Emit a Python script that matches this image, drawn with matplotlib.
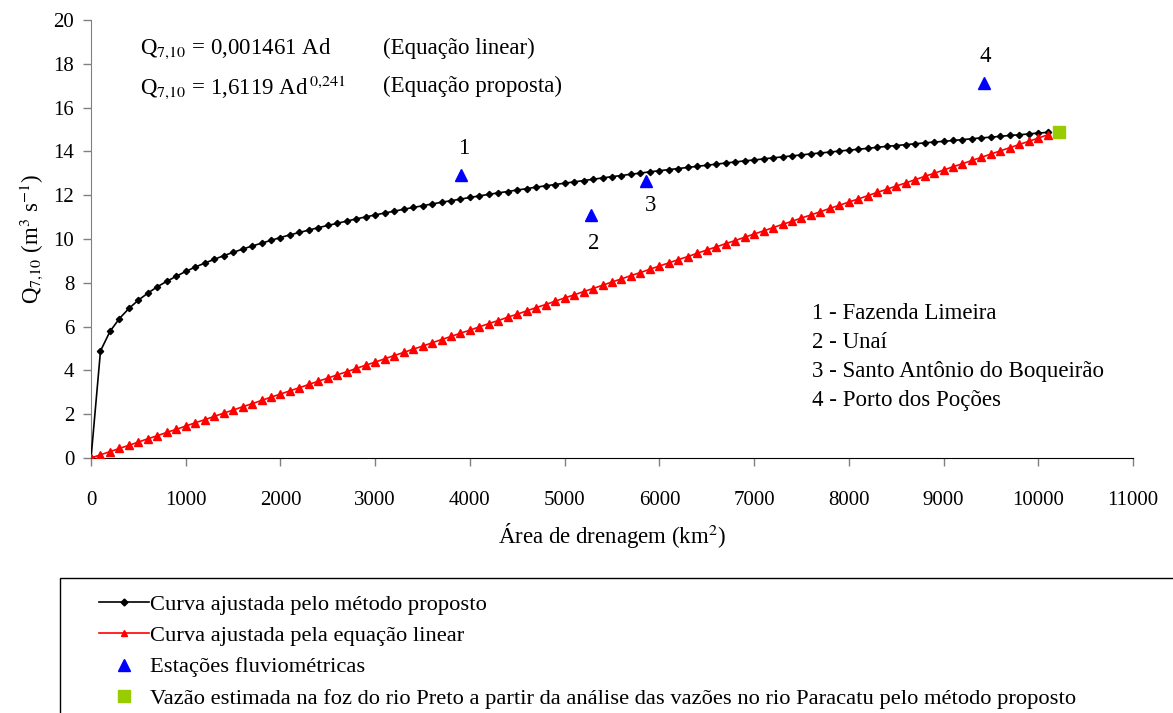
import numpy as np
import matplotlib
matplotlib.use("Agg")
import matplotlib.pyplot as plt
from matplotlib.lines import Line2D
from matplotlib.patches import Rectangle

plt.rcParams["font.family"] = ["Liberation Serif", "DejaVu Serif"]
plt.rcParams["mathtext.fontset"] = "stix"

# drainage area grid (km2), one marker every 100 km2
area = np.arange(0, 10101, 100)

q_proposed = [
    0, 4.89, 5.78, 6.37, 6.83, 7.21, 7.53, 7.82, 8.07, 8.30, 8.52,
    8.72, 8.90, 9.07, 9.24, 9.39, 9.54, 9.68, 9.81, 9.94, 10.07,
    10.19, 10.30, 10.41, 10.52, 10.62, 10.72, 10.82, 10.92, 11.01, 11.10,
    11.19, 11.27, 11.36, 11.44, 11.52, 11.60, 11.68, 11.75, 11.82, 11.90,
    11.97, 12.04, 12.11, 12.17, 12.24, 12.30, 12.37, 12.43, 12.49, 12.55,
    12.61, 12.67, 12.73, 12.79, 12.85, 12.90, 12.96, 13.01, 13.07, 13.12,
    13.17, 13.22, 13.27, 13.32, 13.37, 13.42, 13.47, 13.52, 13.57, 13.61,
    13.66, 13.71, 13.75, 13.80, 13.84, 13.89, 13.93, 13.97, 14.02, 14.06,
    14.10, 14.14, 14.19, 14.23, 14.27, 14.31, 14.35, 14.39, 14.43, 14.46,
    14.50, 14.54, 14.58, 14.62, 14.65, 14.69, 14.73, 14.76, 14.80, 14.84,
    14.87,
]

q_linear = [
    0, 0.15, 0.29, 0.44, 0.58, 0.73, 0.88, 1.02, 1.17, 1.31, 1.46,
    1.61, 1.75, 1.90, 2.05, 2.19, 2.34, 2.48, 2.63, 2.78, 2.92,
    3.07, 3.21, 3.36, 3.51, 3.65, 3.80, 3.94, 4.09, 4.24, 4.38,
    4.53, 4.68, 4.82, 4.97, 5.11, 5.26, 5.41, 5.55, 5.70, 5.84,
    5.99, 6.14, 6.28, 6.43, 6.57, 6.72, 6.87, 7.01, 7.16, 7.31,
    7.45, 7.60, 7.74, 7.89, 8.04, 8.18, 8.33, 8.47, 8.62, 8.77,
    8.91, 9.06, 9.20, 9.35, 9.50, 9.64, 9.79, 9.93, 10.08, 10.23,
    10.37, 10.52, 10.67, 10.81, 10.96, 11.10, 11.25, 11.40, 11.54, 11.69,
    11.83, 11.98, 12.13, 12.27, 12.42, 12.56, 12.71, 12.86, 13.00, 13.15,
    13.30, 13.44, 13.59, 13.73, 13.88, 14.03, 14.17, 14.32, 14.46, 14.61,
    14.76,
]

station_ids = ["1", "2", "3", "4"]
station_area = [3910, 5275, 5855, 9430]
station_q = [12.92, 11.10, 12.66, 17.12]
station_names = ["1 - Fazenda Limeira", "2 - Unaí",
                 "3 - Santo Antônio do Boqueirão", "4 - Porto dos Poções"]

mouth_area = [10215]
mouth_q = [14.89]

legend_labels = [
    "Curva ajustada pelo método proposto",
    "Curva ajustada pela equação linear",
    "Estações fluviométricas",
    "Vazão estimada na foz do rio Preto a partir da análise das vazões no rio Paracatu pelo método proposto",
]

FS = 16.5
LEG_FS = 16.2
TICK_FS = 15

fig = plt.figure(figsize=(11.73, 7.13), dpi=100)
ax = fig.add_axes([0.0776, 0.3576, 0.8883, 0.6143])

ax.plot(area, q_proposed, "-", color="black", lw=1.2, marker="D", ms=3.2,
        mec="black", mfc="black", zorder=3)
ax.plot(area, q_linear, "-", color="red", lw=1.2, marker="^", ms=6,
        mec="red", mfc="red", zorder=3)
ax.plot(station_area, station_q, "^", color="blue", ms=8, ls="none", zorder=4)
ax.plot(mouth_area, mouth_q, "s", color="#99cc00", ms=8, ls="none", zorder=4)

# station numbers
label_off = {"1": (20, 1.2), "2": (35, -1.3), "3": (55, -1.15), "4": (5, 1.2)}
for sid, x, y in zip(station_ids, station_area, station_q):
    dx, dy = label_off[sid]
    ax.text(x + dx, y + dy, sid, ha="center", va="center", fontsize=FS)

for i, name in enumerate(station_names):
    ax.text(7610, 6.62 - i * 1.33, name, ha="left", va="center", fontsize=FS)

# equations
ax.text(520, 18.7, "Q$_{7{,}10}$ = 0,001461 Ad", ha="left", va="center", fontsize=FS)
ax.text(3080, 18.7, "(Equação linear)", ha="left", va="center", fontsize=FS)
ax.text(520, 16.95, "Q$_{7{,}10}$ = 1,6119 Ad$^{\\,0{,}241}$", ha="left", va="center", fontsize=FS)
ax.text(3080, 16.95, "(Equação proposta)", ha="left", va="center", fontsize=FS)

ax.set_xlim(0, 11000)
ax.set_ylim(0, 20)
ax.set_xticks(np.arange(0, 11001, 1000))
ax.set_yticks(np.arange(0, 21, 2))
ax.tick_params(axis="both", direction="out", length=6, width=1, color="#808080",
               labelsize=TICK_FS, pad=6)
ax.tick_params(axis="x", pad=18)
for s in ("top", "right"):
    ax.spines[s].set_visible(False)
ax.spines["left"].set_color("#808080")
ax.spines["bottom"].set_color("black")
ax.set_xlabel("Área de drenagem (km$^2$)", fontsize=FS, labelpad=8)
ax.set_ylabel("Q$_{7{,}10}$ (m$^3$ s$^{-1}$)", fontsize=FS, labelpad=6)

# legend box (runs off the figure on right and bottom)
fig.patches.append(Rectangle((60 / 1173, -0.1), 1.2, 0.1 + (713 - 578) / 713,
                             transform=fig.transFigure, fill=False,
                             edgecolor="black", lw=1))
handles = [
    Line2D([], [], color="black", lw=1.2, marker="D", ms=3.5),
    Line2D([], [], color="red", lw=1.2, marker="^", ms=5),
    Line2D([], [], color="blue", marker="^", ms=8, ls="none"),
    Line2D([], [], color="#99cc00", marker="s", ms=8, ls="none"),
]
fig.legend(handles, legend_labels, loc="upper left", numpoints=1,
           bbox_to_anchor=(90 / 1173, 1 - 585 / 713), frameon=False,
           fontsize=LEG_FS, handlelength=2.2, handletextpad=0.05,
           labelspacing=0.47, borderaxespad=0)

fig.savefig("out.png", dpi=100)
